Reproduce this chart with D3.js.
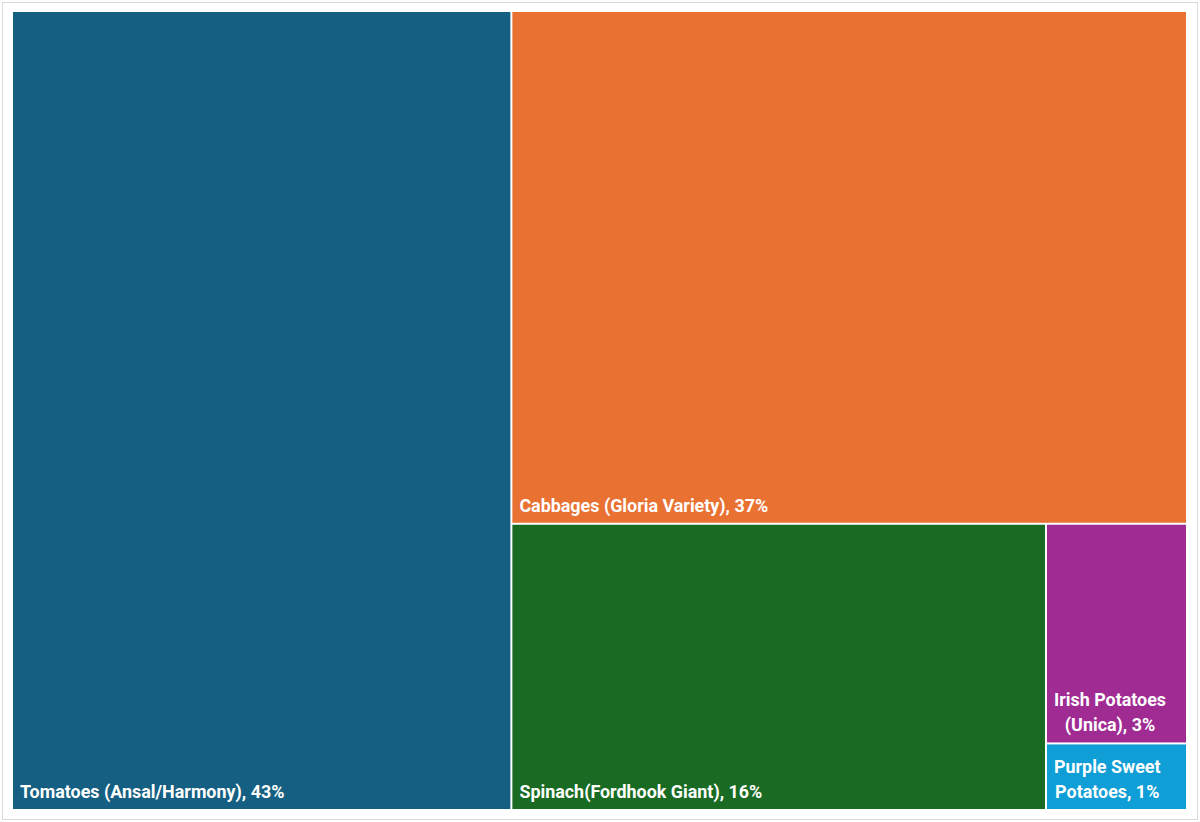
<!DOCTYPE html>
<html>
<head>
<meta charset="utf-8">
<script src="https://cdn.jsdelivr.net/npm/d3@7"></script>
<style>
html,body{margin:0;padding:0;background:#fff;}
svg{display:block;}
</style>
</head>
<body>
<svg id="chart" width="1200" height="822"></svg>
<script>
const categories = [
  "Tomatoes (Ansal/Harmony)",
  "Cabbages (Gloria Variety)",
  "Spinach(Fordhook Giant)",
  "Irish Potatoes (Unica)",
  "Purple Sweet Potatoes"
];
const values = [42.5, 36.9, 16.3, 3.3, 1.0];
const colors = ["#156082", "#E97132", "#196B24", "#A02B93", "#0F9ED5"];
// how each label wraps inside its tile (lines of the label text)
const labelLines = [
  null,
  null,
  null,
  ["Irish Potatoes", "(Unica), 3%"],
  ["Purple Sweet", "Potatoes, 1%"]
];

const W = 1200, H = 822;
const svg = d3.select("#chart");

svg.append("rect")
  .attr("x", 2.5).attr("y", 2.5)
  .attr("width", W - 5).attr("height", H - 5)
  .attr("fill", "#fff").attr("stroke", "#d9d9d9").attr("stroke-width", 1);

const area = {x0: 13, y0: 12, x1: 1186, y1: 809};

const total = d3.sum(values);
const root = d3.hierarchy({children: categories.map((c, i) => ({name: c, value: values[i], i}))})
  .sum(d => d.value || 0)
  .sort((a, b) => b.value - a.value);

d3.treemap()
  .tile(d3.treemapSquarify.ratio(1))
  .size([area.x1 - area.x0 + 2, area.y1 - area.y0 + 2])
  .paddingInner(0)
  .round(false)(root);

const pct = d3.format(".0%");
const g = svg.append("g").attr("transform", `translate(${area.x0 - 1},${area.y0 - 1})`);

const leaves = g.selectAll("g.leaf").data(root.leaves()).join("g").attr("class", "leaf");

leaves.append("rect")
  .attr("x", d => d.x0 + 1)
  .attr("y", d => d.y0 + 1)
  .attr("width", d => d.x1 - d.x0 - 2)
  .attr("height", d => d.y1 - d.y0 - 2)
  .attr("fill", d => colors[d.data.i]);

const fontFamily = "Roboto, 'Open Sans', 'Liberation Sans', sans-serif";
const fs = 17.9;

leaves.each(function(d) {
  const sel = d3.select(this);
  const i = d.data.i;
  const pctText = pct(values[i] / total);
  const lines = labelLines[i] || [categories[i] + ", " + pctText];
  const lh = 25;
  const x = d.x0 + 8;
  const lastBase = d.y1 - 12;
  const t = sel.append("text")
    .attr("fill", "#fff")
    .attr("font-family", fontFamily)
    .attr("font-weight", 700)
    .attr("font-size", fs);
  if (lines.length === 1) {
    t.append("tspan").attr("x", x).attr("y", lastBase).text(lines[0]);
  } else {
    const tmp = sel.append("text").attr("font-family", fontFamily)
      .attr("font-weight", 700).attr("font-size", fs);
    const widths = lines.map(l => { tmp.text(l); return tmp.node().getComputedTextLength(); });
    tmp.remove();
    const maxW = d3.max(widths);
    lines.forEach((l, k) => {
      t.append("tspan")
        .attr("x", x + maxW / 2)
        .attr("text-anchor", "middle")
        .attr("y", lastBase - (lines.length - 1 - k) * lh)
        .text(l);
    });
  }
});
</script>
</body>
</html>
